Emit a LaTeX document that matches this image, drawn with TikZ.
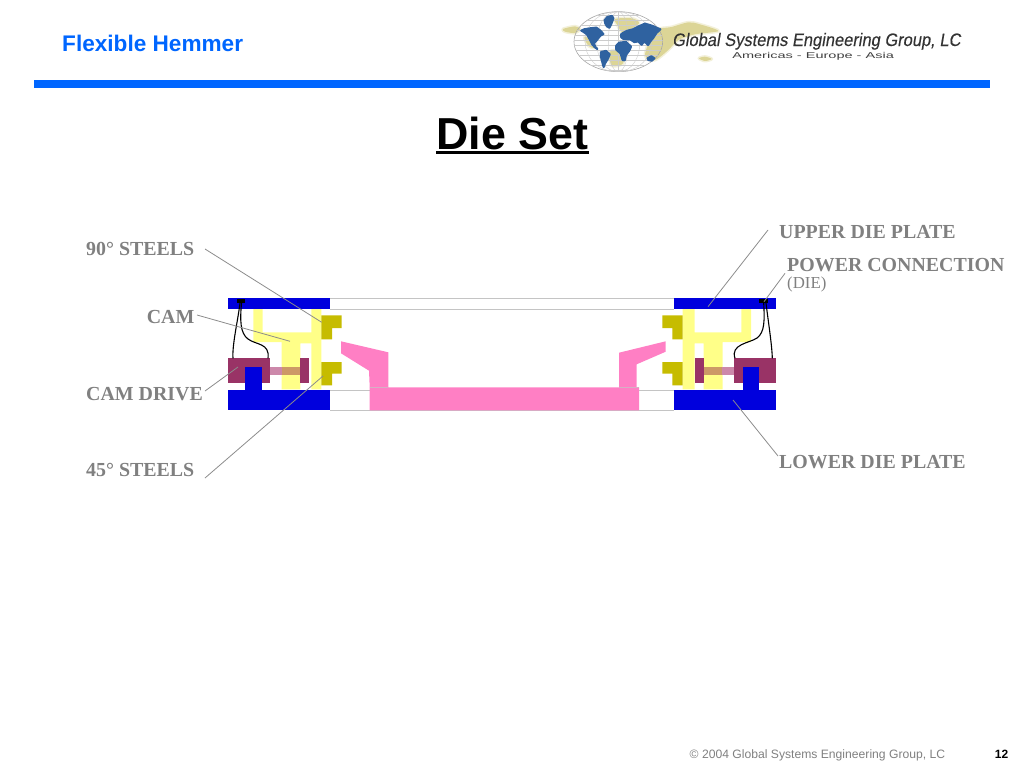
\documentclass[tikz,border=0pt]{standalone}
\usepackage{fontspec}
\setmainfont{Liberation Serif}
\newfontfamily\arialf{Liberation Sans}
\newfontfamily\arialslant[FakeSlant=0.18,FakeBold=0.25]{Liberation Sans}
\definecolor{bandblue}{HTML}{0066FF}
\definecolor{plateblue}{HTML}{0000DD}
\definecolor{maroon}{HTML}{993366}
\definecolor{camyellow}{HTML}{FFFF88}
\definecolor{olive}{HTML}{C6BC00}
\definecolor{hotpink}{HTML}{FF7FC4}
\definecolor{labelgray}{HTML}{808080}
\definecolor{guide}{HTML}{C4C4C4}
\definecolor{leader}{HTML}{8C8C8C}
\definecolor{tan}{HTML}{DCD596}
\definecolor{landblue}{HTML}{2F62A0}
\definecolor{barpink}{HTML}{CC88AA}
\definecolor{bartan}{HTML}{CC9966}
\tikzset{
  lbl/.style={inner sep=0pt,text=labelgray,font=\fontsize{19.9}{19.9}\selectfont\bfseries},
  leaderline/.style={draw=leader,line width=0.8pt},
  guideline/.style={draw=guide,line width=0.9pt},
  wire/.style={draw=black,line width=1.1pt},
  land/.style={fill=landblue,draw=landblue,line width=2.2pt,line join=round},
  smear/.style={fill=tan,draw=tan,draw opacity=0.35,line width=3pt,line join=round},
}
\begin{document}
\begin{tikzpicture}[x=1pt,y=-1pt]
\useasboundingbox (0,0) rectangle (1024,768);
% header
\fill[bandblue] (34,80) rectangle (990,88);
\node[anchor=base west,inner sep=0pt,text=bandblue,font=\arialf\fontsize{22.6}{22.6}\selectfont\bfseries] (head) at (62,52) {Flexible Hemmer};
\node[anchor=base,inner sep=0pt,font=\arialf\fontsize{44.8}{44.8}\selectfont\bfseries] (title) at (512.5,149) {Die Set};
\fill (436,151) rectangle (589,154);
% logo
\begin{scope}[shift={(555,5)},x=0.3333pt,y=-0.3333pt]
  \path[smear] plot[smooth cycle] coordinates {(24,72)(60,64)(75,72)(60,84)(30,80)};
  \path[smear] plot[smooth cycle] coordinates {(300,78)(350,66)(400,52)(435,58)(490,78)(420,88)(370,105)(340,135)(300,165)(270,150)};
  \path[smear] plot[smooth cycle] coordinates {(432,160)(450,155)(470,162)(450,168)};
  \path[smear] plot[smooth cycle] coordinates {(180,42)(230,40)(252,55)(205,82)(187,60)};
  \path[smear] plot[smooth cycle] coordinates {(88,97)(105,102)(118,128)(100,122)};
  \path[smear] plot[smooth cycle] coordinates {(165,140)(195,140)(205,175)(170,182)};
  \draw[gray!70,line width=0.6pt] (190,110) ellipse [x radius=133,y radius=90];
  \begin{scope}
    \clip (190,110) ellipse [x radius=133,y radius=90];
    \foreach \yy in {30,45,...,195} \draw[gray!40,line width=0.4pt] (50,\yy) -- (330,\yy);
    \foreach \xx in {30,65,100,135} {
      \draw[gray!40,line width=0.4pt] (190,20) .. controls (190-\xx*1.33,20) and (190-\xx*1.33,200) .. (190,200);
      \draw[gray!40,line width=0.4pt] (190,20) .. controls (190+\xx*1.33,20) and (190+\xx*1.33,200) .. (190,200);
    }
    \draw[gray!40,line width=0.4pt] (190,20) -- (190,200);
  \end{scope}
  \path[land] (149,46) -- (157,36) -- (171,33) -- (175,40) -- (169,56) -- (163,68) -- (156,64) -- (151,55) -- cycle;
  \path[land] (79,77) -- (88,73) -- (106,70) -- (124,68) -- (136,77) -- (145,87) -- (137,91) -- (130,99) -- (124,107) -- (117,114) -- (120,125) -- (127,132) -- (120,127) -- (112,118) -- (105,104) -- (96,88) -- (85,80) -- cycle;
  \path[land] (138,141) -- (153,138) -- (164,148) -- (158,162) -- (150,175) -- (146,186) -- (143,175) -- (138,155) -- cycle;
  \path[land] (199,87) -- (215,78) -- (234,73) -- (254,63) -- (270,56) -- (290,62) -- (316,73) -- (304,84) -- (295,98) -- (286,109) -- (279,120) -- (274,114) -- (266,110) -- (260,119) -- (250,109) -- (238,111) -- (226,103) -- (206,102) -- (199,97) -- cycle;
  \path[land] (193,113) -- (213,111) -- (228,125) -- (222,138) -- (213,149) -- (209,166) -- (203,165) -- (197,145) -- (184,134) -- (184,122) -- cycle;
  \path[land] (278,160) -- (289,154) -- (298,160) -- (290,167) -- (280,165) -- cycle;
\end{scope}
\node[anchor=base west,inner sep=0pt,text=black!80,font=\arialslant\fontsize{18}{18}\selectfont,xscale=0.915] (logoa) at (672,46) {Global Systems Engineering Group, LC};
\node[anchor=base west,inner sep=0pt,text=black!75,font=\arialf\fontsize{8.5}{8.5}\selectfont,xscale=1.71] (logob) at (732,58.5) {Americas - Europe - Asia};
% guide lines
\draw[guideline] (330,298.5) -- (674,298.5);
\draw[guideline] (330,309.5) -- (674,309.5);
\draw[guideline] (330,390.5) -- (674,390.5);
\draw[guideline] (330,410.5) -- (674,410.5);
% pink part
\fill[hotpink] (369.7,410.3) -- (369.7,387.3) -- (369,370.7) -- (341,353.3) -- (341,341.3) -- (388.3,352.3) -- (388.3,387.3) -- (619,387.3) -- (619,352.7) -- (665.7,341.3) -- (665.7,351.7) -- (636.7,364.3) -- (636.7,387.3) -- (639,387.3) -- (639,410.3) -- cycle;
\draw[guide!70!hotpink,line width=0.5pt] (369.7,387.5) -- (388.3,387.5);
\draw[guide!70!hotpink,line width=0.5pt] (619,387.5) -- (639,387.5);
% LEFT unit
\fill[camyellow] (253.3,309) -- (262.7,309) -- (262.7,332.3) -- (311.3,332.3) -- (311.3,309) -- (321.3,309) -- (321.3,389.3) -- (311.3,389.3) -- (311.3,343.3) -- (300.3,343.3) -- (300.3,389.3) -- (281.7,389.3) -- (281.7,342) -- (253.3,342) -- cycle;
\fill[plateblue] (228.3,298.3) rectangle (330.3,309.3);
\fill[plateblue] (228.3,390.3) rectangle (330.3,410.3);
\fill[barpink] (270,367.3) rectangle (281.7,375);
\fill[bartan] (281.7,367.3) rectangle (300.3,375);
\fill[maroon] (228.3,358.3) rectangle (270.3,383.3);
\fill[maroon] (300.3,358.3) rectangle (309,383.3);
\fill[plateblue] (245,367) rectangle (262.3,390.5);
\fill[olive] (321.3,315.3) -- (341.7,315.3) -- (341.7,328) -- (332,328) -- (332,339.3) -- (321.3,339.3) -- cycle;
\fill[olive] (321.3,362) -- (341.7,362) -- (341.7,373.7) -- (332,373.7) -- (332,385.3) -- (321.3,385.3) -- cycle;
\fill[black] (236.7,299) rectangle (245.3,303.3);
\draw[wire] (240,303) .. controls (238,320) and (232,345) .. (233,358.3);
\draw[wire] (241.5,303) .. controls (240,320) and (240,333) .. (248,339) .. controls (256,345) and (270,343) .. (268,358.3);
% RIGHT unit
\fill[camyellow] (682.7,309) -- (694.7,309) -- (694.7,332.3) -- (741.3,332.3) -- (741.3,309) -- (751,309) -- (751,342) -- (722.7,342) -- (722.7,389.3) -- (703.7,389.3) -- (703.7,343.3) -- (694.7,343.3) -- (694.7,389.3) -- (682.7,389.3) -- cycle;
\fill[plateblue] (674,298.3) rectangle (776,309.3);
\fill[plateblue] (674,390.3) rectangle (776,410.3);
\fill[bartan] (703.7,367.3) rectangle (722,375);
\fill[barpink] (722,367.3) rectangle (734,375);
\fill[maroon] (734,358.3) rectangle (776,383.3);
\fill[maroon] (695,358.3) rectangle (703.7,383.3);
\fill[plateblue] (742.7,367) rectangle (759.3,390.5);
\fill[olive] (682.7,315.3) -- (662.3,315.3) -- (662.3,328) -- (672.3,328) -- (672.3,339.3) -- (682.7,339.3) -- cycle;
\fill[olive] (682.7,362) -- (662.3,362) -- (662.3,373.7) -- (672.3,373.7) -- (672.3,385.3) -- (682.7,385.3) -- cycle;
\fill[black] (759.3,299) rectangle (767.7,303.3);
\draw[wire] (766,303) .. controls (768,320) and (772,345) .. (772.3,358.3);
\draw[wire] (763.7,303) .. controls (764.5,320) and (765,332) .. (757,338) .. controls (750,343) and (730,344) .. (735,358.3);
% labels
\node[lbl,anchor=base west] (l90) at (86,255) {90° STEELS};
\node[lbl,anchor=base east] (lcam) at (194.5,323.3) {CAM};
\node[lbl,anchor=base west] (ldrive) at (86,400) {CAM DRIVE};
\node[lbl,anchor=base west] (l45) at (86,476.7) {45° STEELS};
\node[lbl,anchor=base west] (lup) at (779,238) {UPPER DIE PLATE};
\node[lbl,anchor=base west] (lpow) at (787,271.7) {POWER CONNECTION};
\node[anchor=base west,inner sep=0pt,text=labelgray,font=\fontsize{16.8}{16.8}\selectfont] (ldie) at (787,288) {(DIE)};
\node[lbl,anchor=base west] (llow) at (779,468) {LOWER DIE PLATE};
% leaders
\coordinate (a90a) at (205,249);   \coordinate (a90b) at (321.7,322.3);
\coordinate (acama) at (197,315);  \coordinate (acamb) at (290,341.3);
\coordinate (adra) at (205,391);   \coordinate (adrb) at (238,367);
\coordinate (a45a) at (205,478);   \coordinate (a45b) at (323,376);
\coordinate (aupa) at (768,230);   \coordinate (aupb) at (708,306.7);
\coordinate (apoa) at (785,273.3); \coordinate (apob) at (764,301.7);
\coordinate (aloa) at (778,456);   \coordinate (alob) at (733,400);
\draw[leaderline] (a90a) -- (a90b);
\draw[leaderline] (acama) -- (acamb);
\draw[leaderline] (adra) -- (adrb);
\draw[leaderline] (a45a) -- (a45b);
\draw[leaderline] (aupa) -- (aupb);
\draw[leaderline] (apoa) -- (apob);
\draw[leaderline] (aloa) -- (alob);
% footer
\node[anchor=base west,inner sep=0pt,text=labelgray,font=\arialf\fontsize{12.15}{12.15}\selectfont] (foot) at (689.5,758) {© 2004 Global Systems Engineering Group, LC};
\node[anchor=base east,inner sep=0pt,font=\arialf\fontsize{12}{12}\selectfont\bfseries] (page) at (1008.5,758) {12};
\end{tikzpicture}
\end{document}
